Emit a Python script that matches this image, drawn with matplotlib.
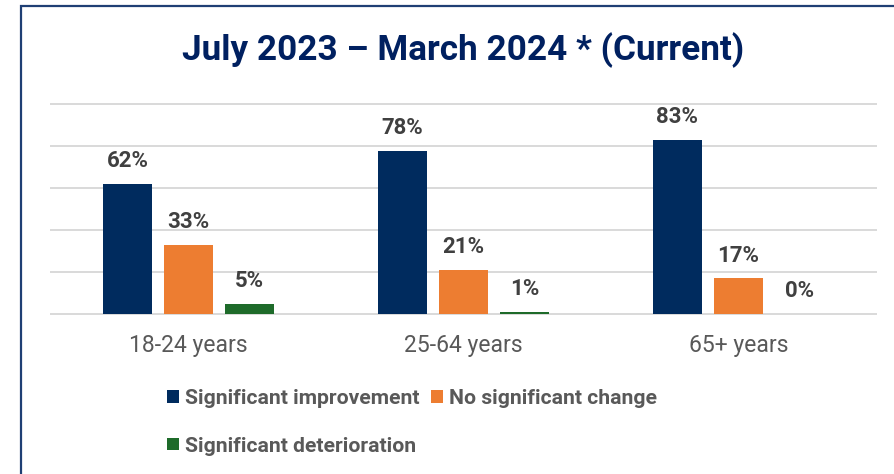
import matplotlib
matplotlib.use("Agg")
import matplotlib.pyplot as plt
import matplotlib.patches as mpatches
import numpy as np

title = "July 2023 – March 2024 * (Current)"
categories = ["18-24 years", "25-64 years", "65+ years"]
series_names = ["Significant improvement", "No significant change", "Significant deterioration"]
improvement = [62, 78, 83]
no_change = [33, 21, 17]
deterioration = [5, 1, 0]
series_values = [improvement, no_change, deterioration]
colors = ["#002B5E", "#ED7D31", "#1E6B2A"]

plt.rcParams['font.family'] = ['Roboto', 'DejaVu Sans']

W, H = 895, 474
fig = plt.figure(figsize=(W / 100, H / 100), dpi=100)
fig.patch.set_facecolor("white")

ax = fig.add_axes([51 / W, 1 - 314 / H, 825 / W, (314 - 104.5) / H])
x = np.arange(len(categories))
width = 0.175
step = 0.222
bars = []
for i, (vals, col, name) in enumerate(zip(series_values, colors, series_names)):
    b = ax.bar(x + (i - 1) * step, vals, width, color=col, label=name, zorder=3)
    bars.append(b)
    for rect, v in zip(b, vals):
        ax.annotate(f"{v}%", (rect.get_x() + rect.get_width() / 2, rect.get_height()),
                    xytext=(0, 8.5), textcoords="offset points", ha="center", va="bottom",
                    fontsize=16, fontweight="bold", color="#404040")

ax.set_xlim(-0.5, 2.5)
ax.set_ylim(0, 100)
ax.set_yticks(np.arange(0, 101, 20))
ax.yaxis.grid(True, color="#D9D9D9", linewidth=1.4, zorder=0)
for gl in ax.get_ygridlines():
    gl.set_clip_on(False)
ax.set_yticklabels([])
ax.tick_params(axis="y", length=0)
ax.set_xticks(x)
ax.set_xticklabels(categories, fontsize=16.5, color="#595959")
ax.tick_params(axis="x", length=0, pad=14.5)
for s in ax.spines.values():
    s.set_visible(False)
ax.set_axisbelow(True)

handles = [bars[0], bars[2], bars[1]]
labels = [series_names[0], series_names[2], series_names[1]]
leg = fig.legend(handles, labels, ncol=2, loc="upper left",
                 bbox_to_anchor=(148 / W, 1 - 370 / H), frameon=False,
                 prop={"size": 15.2, "weight": "bold"}, labelcolor="#595959",
                 handlelength=0.55, handleheight=0.55, handletextpad=0.3,
                 columnspacing=0.55, labelspacing=1.35)

fig.text(463.5 / W, 1 - 50 / H, title, ha="center", va="center",
         fontsize=25.3, fontweight="bold", color="#002060")

border = mpatches.Rectangle((21.5 / W, -0.1), 1.2, 1.1 - 6 / H,
                            transform=fig.transFigure, fill=False,
                            edgecolor="#1F3F74", linewidth=1.6)
fig.patches.append(border)

fig.savefig("out.png", dpi=100)
